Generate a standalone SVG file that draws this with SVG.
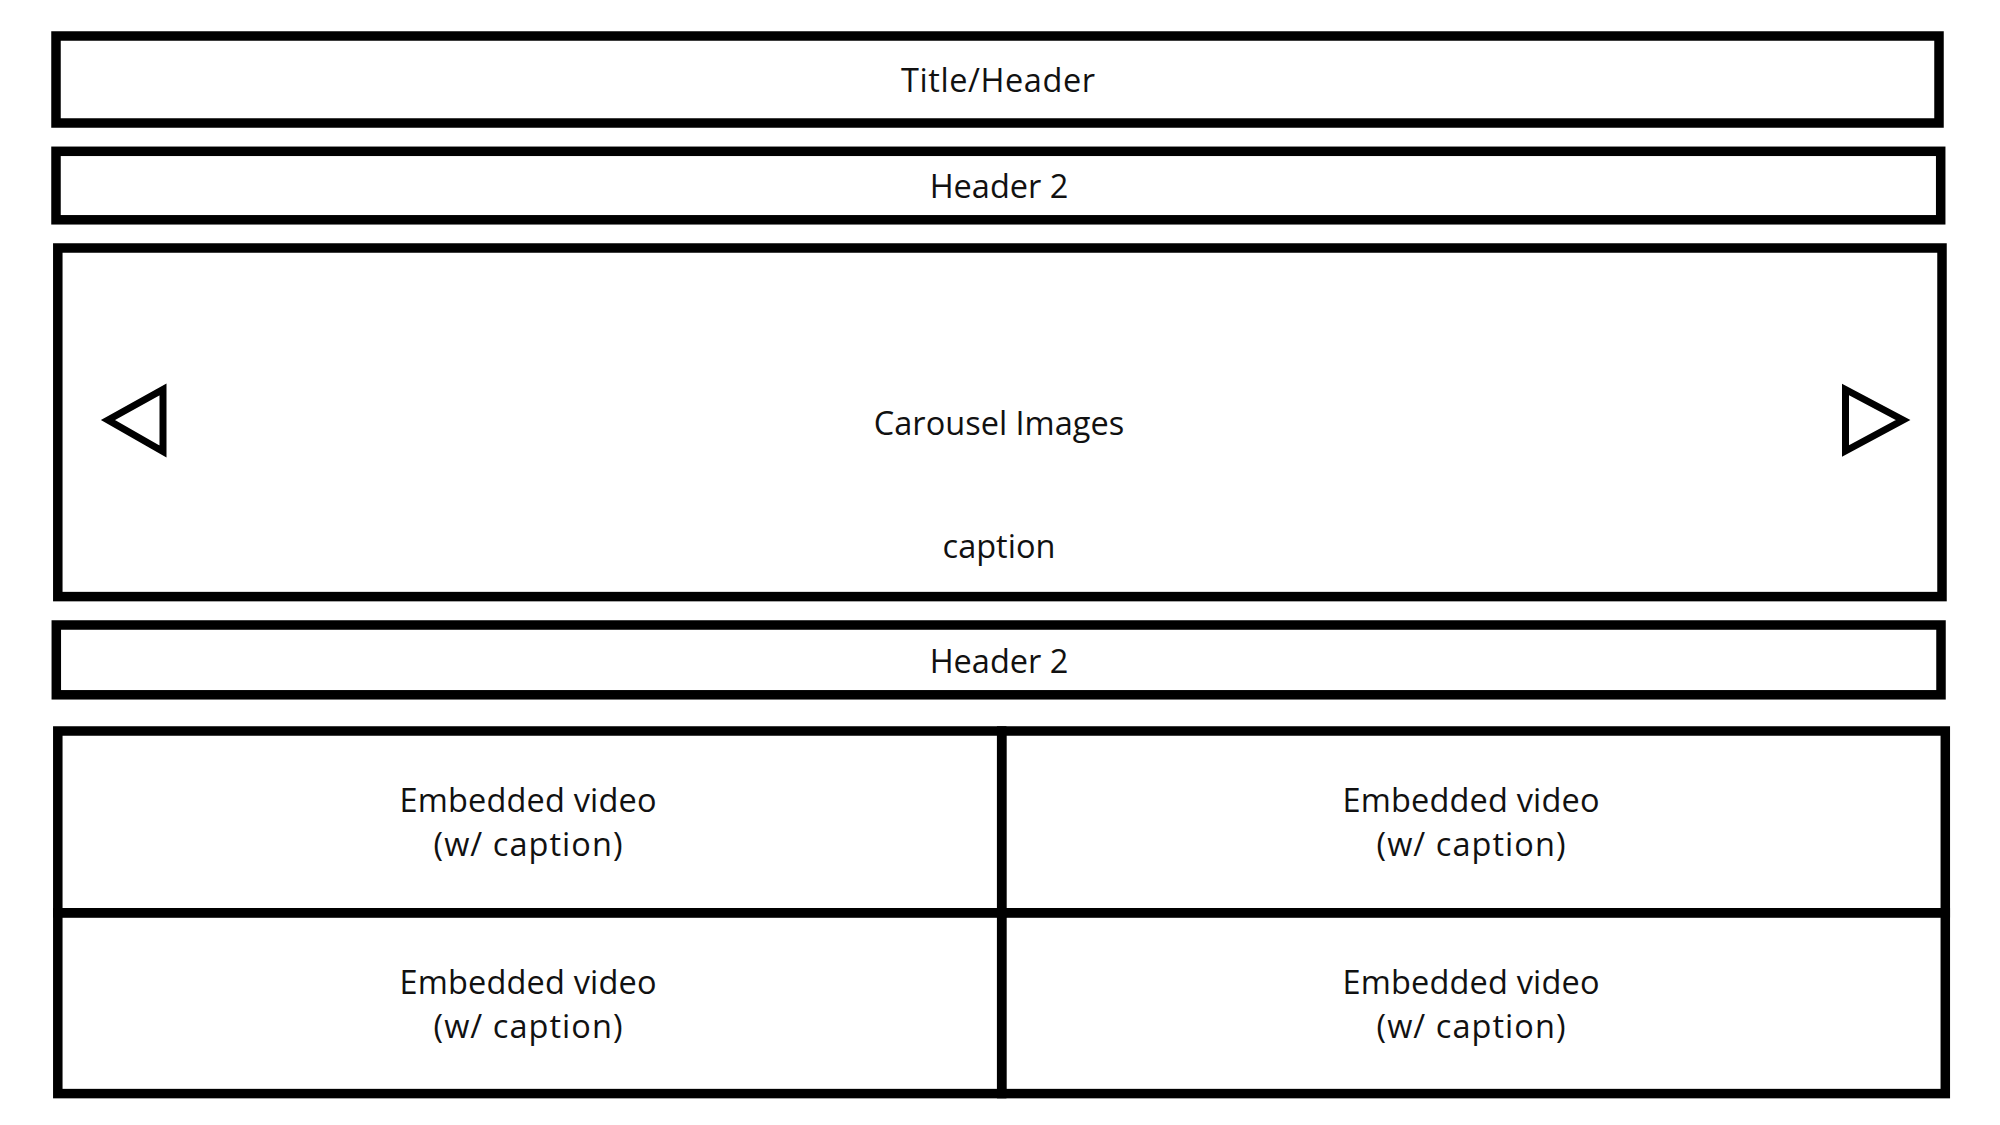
<svg xmlns="http://www.w3.org/2000/svg" width="2000" height="1125" viewBox="0 0 2000 1125">
<style>
.box{fill:none;stroke:#000;stroke-width:9.5}
.arrow{fill:none;stroke:#000;stroke-width:7;stroke-linejoin:miter}
.t{font-family:"Open Sans","Noto Sans",sans-serif;font-size:32.5px;fill:#111;text-anchor:middle}
</style>
<rect width="2000" height="1125" fill="#fff"/>
<g id="title-header">
<rect class="box" x="56" y="36" width="1883" height="87"/>
<text class="t" x="998" y="92" textLength="194" lengthAdjust="spacing">Title/Header</text>
</g>
<g id="header-2-top">
<rect class="box" x="56" y="151.3" width="1884.7" height="68.5"/>
<text class="t" x="999" y="198">Header 2</text>
</g>
<g id="carousel">
<rect class="box" x="57.8" y="248" width="1884.2" height="348.6"/>
<polygon class="arrow" points="108,420 163,389.5 163,451.5"/>
<polygon class="arrow" points="1845.5,389.5 1845.5,451 1903,420"/>
<text class="t" x="999" y="435">Carousel Images</text>
<text class="t" x="999" y="558">caption</text>
</g>
<g id="header-2-bottom">
<rect class="box" x="56.3" y="625" width="1884.7" height="69.8"/>
<text class="t" x="999" y="673">Header 2</text>
</g>
<g id="video-1">
<rect class="box" x="57.8" y="731" width="943.9" height="181.8"/>
<text class="t"><tspan x="528" y="812" textLength="257" lengthAdjust="spacing">Embedded video</tspan><tspan x="528" y="856" textLength="189" lengthAdjust="spacing">(w/ caption)</tspan></text>
</g>
<g id="video-2">
<rect class="box" x="1001.7" y="731" width="943.6" height="181.8"/>
<text class="t"><tspan x="1471" y="812" textLength="257" lengthAdjust="spacing">Embedded video</tspan><tspan x="1471" y="856" textLength="189" lengthAdjust="spacing">(w/ caption)</tspan></text>
</g>
<g id="video-3">
<rect class="box" x="57.8" y="912.8" width="943.9" height="180.8"/>
<text class="t"><tspan x="528" y="994" textLength="257" lengthAdjust="spacing">Embedded video</tspan><tspan x="528" y="1038" textLength="189" lengthAdjust="spacing">(w/ caption)</tspan></text>
</g>
<g id="video-4">
<rect class="box" x="1001.7" y="912.8" width="943.6" height="180.8"/>
<text class="t"><tspan x="1471" y="994" textLength="257" lengthAdjust="spacing">Embedded video</tspan><tspan x="1471" y="1038" textLength="189" lengthAdjust="spacing">(w/ caption)</tspan></text>
</g>
<g id="connectors"></g>
</svg>
